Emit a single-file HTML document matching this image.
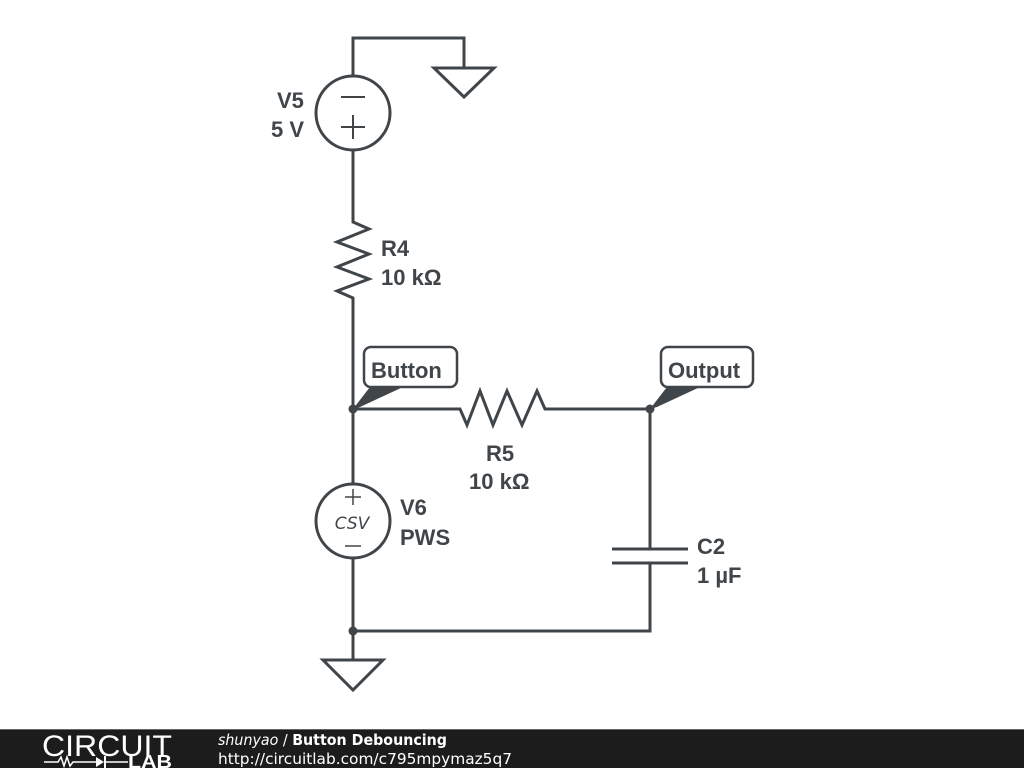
<!DOCTYPE html>
<html><head><style>
body{margin:0;width:1024px;height:768px;overflow:hidden;background:#fff;font-family:"Liberation Sans",sans-serif}
</style></head><body>
<svg width="1024" height="768" viewBox="0 0 1024 768" xmlns="http://www.w3.org/2000/svg">
<g stroke="#404549" stroke-width="3" fill="none" stroke-linejoin="miter">
<polyline points="353,76 353,38 464,38 464,68"/>
<polygon points="434,68 494,68 464,97"/>
<circle cx="353" cy="113" r="37"/>
<line x1="341" y1="97" x2="365" y2="97" stroke-width="2"/>
<line x1="341" y1="127" x2="365" y2="127" stroke-width="2"/>
<line x1="353" y1="115" x2="353" y2="139" stroke-width="2"/>
<polyline points="353,150 353,222 369,229 337,242 369,254 337,267 369,279 337,291 353,298 353,484"/>
<polyline points="353,409 460,409 467,425 480,391 493,425 507,391 522,425 537,391 545,409 650,409 650,549"/>
<line x1="612" y1="549" x2="688" y2="549"/>
<line x1="612" y1="563" x2="688" y2="563"/>
<polyline points="650,563 650,631 353,631"/>
<circle cx="353" cy="521" r="37"/>
<line x1="353" y1="558" x2="353" y2="660"/>
<polygon points="323,660 383,660 353,690"/>
<line x1="345" y1="497" x2="361" y2="497" stroke-width="1.5"/>
<line x1="353" y1="489" x2="353" y2="505" stroke-width="1.5"/>
<line x1="345" y1="546" x2="361" y2="546" stroke-width="1.5"/>
<rect x="364" y="347" width="93" height="40" rx="7" stroke-width="2.5"/>
<rect x="661" y="347" width="92" height="40" rx="7" stroke-width="2.5"/>
</g>
<g fill="#404549">
<circle cx="353" cy="409" r="4.5"/><circle cx="650" cy="409" r="4.5"/><circle cx="353" cy="631" r="4.5"/>
<polygon points="353,409 370,387 403,387 360,407"/>
<polygon points="650,409 667,387 700,387 657,407"/>
</g>
<g fill="#404549" font-weight="bold" font-size="22">
<text x="277" y="108">V5</text><text x="271" y="137">5 V</text>
<text x="381" y="256">R4</text><text x="381" y="285">10 kΩ</text>
<text x="371" y="378">Button</text><text x="668" y="378">Output</text>
<text x="486" y="461">R5</text><text x="469" y="489">10 kΩ</text>
<text x="400" y="515">V6</text><text x="400" y="545">PWS</text>
<text x="697" y="554">C2</text><text x="697" y="583">1 µF</text>
<text x="352" y="529" font-size="17" font-weight="normal" font-style="italic" text-anchor="middle" font-family="DejaVu Sans,sans-serif">CSV</text>
</g>
<rect x="0" y="729" width="1024" height="39" fill="#1c1c1c"/>
<line x1="0" y1="729.5" x2="1024" y2="729.5" stroke="#666"/>
<text x="42" y="756" fill="#fff" font-size="30" font-family="Liberation Sans" textLength="130" lengthAdjust="spacingAndGlyphs">CIRCUIT</text>
<polyline points="44,762 58,762 61,757 64,766 67,757 70,766 73,762 96,762" stroke="#fff" stroke-width="1.5" fill="none"/>
<polygon points="96,757 96,767 104,762" fill="#fff"/>
<line x1="105" y1="756" x2="105" y2="768" stroke="#fff" stroke-width="2"/>
<line x1="105" y1="762" x2="128" y2="762" stroke="#fff" stroke-width="1.5"/>
<text x="128" y="768" fill="#fff" font-size="18" font-weight="bold" textLength="44" lengthAdjust="spacingAndGlyphs">LAB</text>
<text x="218" y="745" fill="#fff" font-size="15" font-family="DejaVu Sans,sans-serif" textLength="229" lengthAdjust="spacingAndGlyphs"><tspan font-style="italic">shunyao</tspan> / <tspan font-weight="bold">Button Debouncing</tspan></text>
<text x="218" y="764" fill="#fff" font-size="15.5" font-family="DejaVu Sans,sans-serif" textLength="294" lengthAdjust="spacingAndGlyphs">http://circuitlab.com/c795mpymaz5q7</text>
</svg>
</body></html>
